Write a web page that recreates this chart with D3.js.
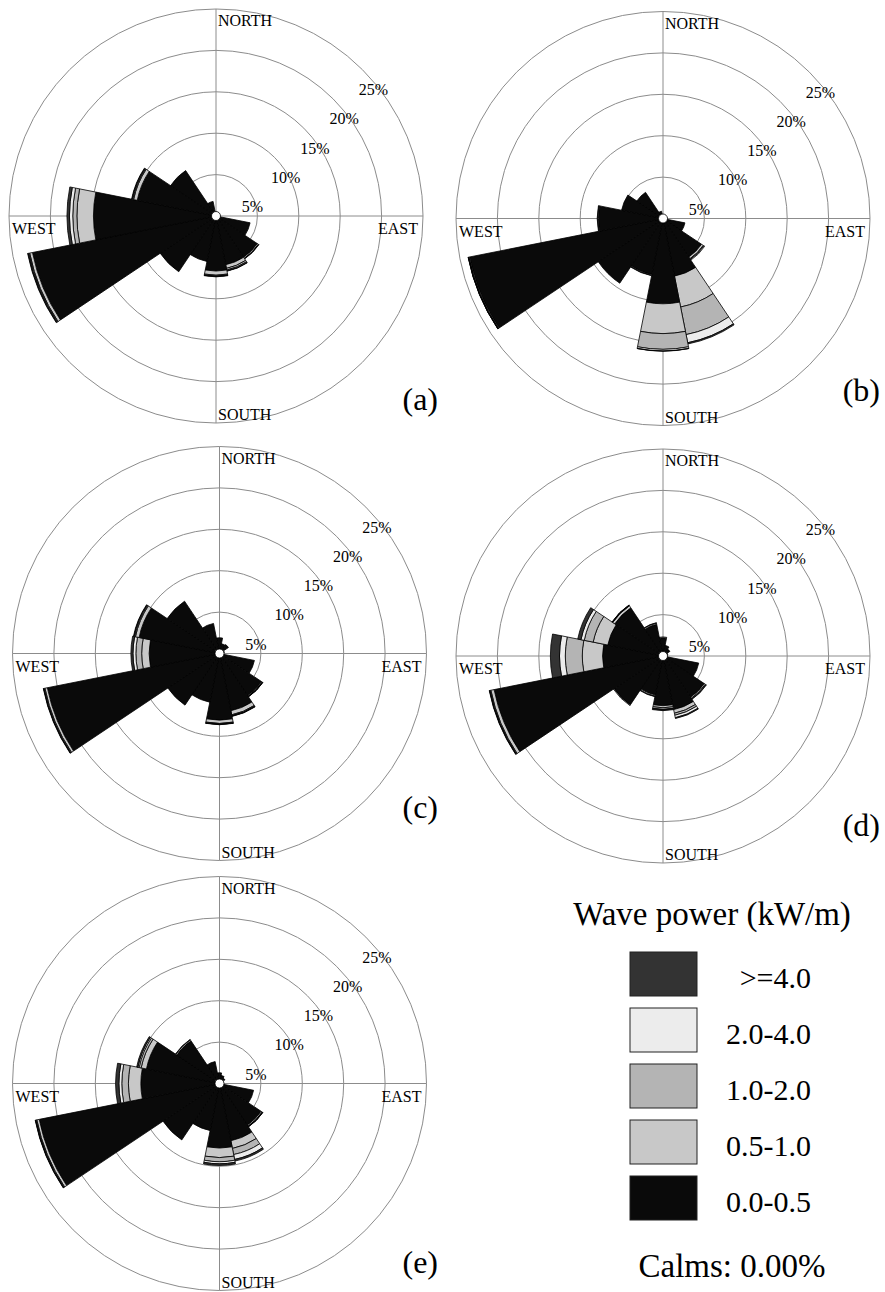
<!DOCTYPE html>
<html>
<head>
<meta charset="utf-8">
<script src="https://cdn.jsdelivr.net/npm/d3@7"></script>
<style>
  html, body { margin: 0; padding: 0; background: #ffffff; }
  svg { display: block; }
  svg text { font-family: "Liberation Serif", "Times New Roman", serif; fill: #000; }
</style>
</head>
<body>
<svg id="chart" width="885" height="1292"></svg>
<script>
// Compass sectors, clockwise from north
const directions = ["N","NNE","NE","ENE","E","ESE","SE","SSE","S","SSW","SW","WSW","W","WNW","NW","NNW"];
// Wave power classes (kW/m), stacked from the centre outwards
const powerBins = ["0.0-0.5","0.5-1.0","1.0-2.0","2.0-4.0",">=4.0"];
const binColors = ["#0a0a0a","#c8c8c8","#b4b4b4","#ececec","#333333"];
const ringTicks = [5, 10, 15, 20, 25];
const tickLabels = ["5%","10%","15%","20%","25%"];
const panelLabels = ["(a)","(b)","(c)","(d)","(e)"];

// Frequency of occurrence (%) per direction, one array per power class
// (a)
const a_p0 = [0.4,0.3,0.2,0.2,0.4,4.2,6.0,6.0,6.65,5.6,8.1,22.6,14.8,9.7,6.6,1.8];
const a_p1 = [0,0,0,0,0,0,0.15,0.45,0.5,0,0,0.35,2.0,0.45,0,0];
const a_p2 = [0,0,0,0,0,0,0.05,0.2,0.1,0,0,0.1,0.5,0.1,0,0];
const a_p3 = [0,0,0,0,0,0,0.03,0.1,0.05,0,0,0.08,0.4,0.08,0,0];
const a_p4 = [0,0,0,0,0,0,0,0.05,0.05,0,0,0.07,0.3,0.07,0,0];
// (b)
const b_p0 = [0.4,0.3,0.3,0.3,0.5,2.7,5.6,7.1,10.3,6.9,9.4,23.8,7.8,5.1,3.8,0.9];
const b_p1 = [0,0,0,0,0,0,0.25,3.8,3.6,0.1,0,0.1,0.1,0,0,0];
const b_p2 = [0,0,0,0,0,0,0.1,3.4,1.9,0.05,0,0.05,0.05,0,0,0];
const b_p3 = [0,0,0,0,0,0,0.1,1.0,0.2,0,0,0.03,0,0,0,0];
const b_p4 = [0,0,0,0,0,0,0,0.15,0.02,0,0,0.02,0,0,0,0];
// (c)
const c_p0 = [1.9,1.2,1.3,0.6,0.4,4.3,6.1,7.05,8.05,6.0,7.5,21.2,8.5,9.9,7.6,3.7];
const c_p1 = [0,0,0,0,0,0,0.1,0.5,0.4,0,0,0.3,0.9,0.45,0,0];
const c_p2 = [0,0,0,0,0,0,0.05,0.1,0.08,0,0,0.1,0.7,0.1,0,0];
const c_p3 = [0,0,0,0,0,0,0.03,0.05,0.04,0,0,0.05,0.35,0.08,0,0];
const c_p4 = [0,0,0,0,0,0,0.02,0.05,0.03,0,0,0.05,0.25,0.07,0,0];
// (d)
const d_p0 = [2.2,1.3,1.0,0.6,0.4,4.4,6.0,6.6,6.0,4.8,7.1,20.8,7.3,6.8,7.0,3.9];
const d_p1 = [0.1,0,0,0,0,0,0.15,0.45,0.25,0.15,0.1,0.4,2.45,1.8,0.3,0.15];
const d_p2 = [0,0,0,0,0,0,0.1,0.25,0.2,0.05,0,0.1,2.05,1.1,0.05,0.05];
const d_p3 = [0,0,0,0,0,0,0.05,0.3,0.05,0,0,0.05,0.7,0.4,0.03,0];
const d_p4 = [0,0,0,0,0,0,0,0.1,0.1,0,0,0.05,1.1,0.4,0.02,0];
// (e)
const e_p0 = [1.3,1.0,0.8,0.5,0.4,4.2,6.05,7.05,7.8,5.8,8.2,22.2,9.5,9.0,6.2,2.7];
const e_p1 = [0,0,0,0,0,0,0.15,0.95,1.15,0,0,0.3,1.5,0.65,0.15,0];
const e_p2 = [0,0,0,0,0,0,0.05,0.75,0.5,0,0,0.1,0.8,0.25,0.05,0];
const e_p3 = [0,0,0,0,0,0,0.03,0.6,0.25,0,0,0.05,0.35,0.15,0,0];
const e_p4 = [0,0,0,0,0,0,0.02,0.2,0.2,0,0,0.05,0.4,0.15,0,0];

const calms = "0.00%";

// rose centres and tag placement (tag anchored at its right edge)
const panels = [
  { label: panelLabels[0], cx: 216,   cy: 216,    lx: 438, ly: 410,  classes: [a_p0,a_p1,a_p2,a_p3,a_p4] },
  { label: panelLabels[1], cx: 663,   cy: 218.5,  lx: 880, ly: 401,  classes: [b_p0,b_p1,b_p2,b_p3,b_p4] },
  { label: panelLabels[2], cx: 219.5, cy: 653.5,  lx: 438, ly: 818,  classes: [c_p0,c_p1,c_p2,c_p3,c_p4] },
  { label: panelLabels[3], cx: 663,   cy: 656,    lx: 880, ly: 836,  classes: [d_p0,d_p1,d_p2,d_p3,d_p4] },
  { label: panelLabels[4], cx: 219.5, cy: 1083.5, lx: 438, ly: 1273, classes: [e_p0,e_p1,e_p2,e_p3,e_p4] }
];

const R = 207;
const r = d3.scaleLinear().domain([0, 25]).range([0, R]);
const angle = d3.scaleBand().domain(directions).range([-Math.PI / 16, 2 * Math.PI - Math.PI / 16]);
const gridColor = "#8c8c8c";

const svg = d3.select("#chart");

panels.forEach(p => {
  const g = svg.append("g").attr("transform", `translate(${p.cx},${p.cy})`);

  // rings and axes
  g.selectAll("circle.ring").data(ringTicks).join("circle")
    .attr("class", "ring")
    .attr("r", d => r(d))
    .attr("fill", "none").attr("stroke", gridColor).attr("stroke-width", 1);
  g.append("line").attr("x1", -R).attr("x2", R).attr("y1", 0).attr("y2", 0)
    .attr("stroke", gridColor).attr("stroke-width", 1);
  g.append("line").attr("x1", 0).attr("x2", 0).attr("y1", -R).attr("y2", R)
    .attr("stroke", gridColor).attr("stroke-width", 1);

  // stacked sectors
  const segs = [];
  directions.forEach((dir, i) => {
    let base = 0;
    p.classes.forEach((arr, k) => {
      const v = arr[i];
      if (v > 0) segs.push({ dir, k, lo: base, hi: base + v });
      base += v;
    });
  });
  const arc = d3.arc()
    .innerRadius(d => r(d.lo))
    .outerRadius(d => r(d.hi))
    .startAngle(d => angle(d.dir))
    .endAngle(d => angle(d.dir) + angle.bandwidth());
  g.selectAll("path.seg").data(segs).join("path")
    .attr("class", "seg")
    .attr("d", arc)
    .attr("fill", d => binColors[d.k])
    .attr("stroke", "#000").attr("stroke-width", 0.8)
    .attr("stroke-linejoin", "miter");

  // centre marker
  g.append("circle").attr("r", 4.5).attr("fill", "#fff")
    .attr("stroke", "#000").attr("stroke-width", 0.8);

  // ring labels along the NE diagonal
  g.selectAll("text.tick").data(ringTicks).join("text")
    .attr("class", "tick")
    .attr("x", d => r(d) * Math.SQRT1_2 - 3.5)
    .attr("y", d => -r(d) * Math.SQRT1_2 + 25.5)
    .attr("font-size", 16)
    .text((d, i) => tickLabels[i]);

  // compass labels
  const lab = [
    { t: "NORTH", x: 2, y: -190, a: "start" },
    { t: "SOUTH", x: 2, y: 204, a: "start" },
    { t: "WEST", x: -204, y: 18, a: "start" },
    { t: "EAST", x: 202, y: 18, a: "end" }
  ];
  g.selectAll("text.card").data(lab).join("text")
    .attr("class", "card")
    .attr("x", d => d.x).attr("y", d => d.y)
    .attr("text-anchor", d => d.a)
    .attr("font-size", 16)
    .text(d => d.t);

  // panel tag
  svg.append("text")
    .attr("x", p.lx).attr("y", p.ly)
    .attr("text-anchor", "end")
    .attr("font-size", 32)
    .text(p.label);
});

// legend
const legend = svg.append("g");
legend.append("text")
  .attr("x", 712).attr("y", 925).attr("text-anchor", "middle")
  .attr("font-size", 33)
  .text("Wave power (kW/m)");

const legendOrder = d3.range(powerBins.length).reverse();
const ly = d3.scalePoint().domain(legendOrder).range([952, 1176]);
legend.selectAll("rect").data(legendOrder).join("rect")
  .attr("x", 630).attr("y", d => ly(d))
  .attr("width", 67).attr("height", 44)
  .attr("fill", d => binColors[d])
  .attr("stroke", "#222").attr("stroke-width", 1);
legend.selectAll("text.bin").data(legendOrder).join("text")
  .attr("class", "bin")
  .attr("x", 811).attr("y", d => ly(d) + 36)
  .attr("text-anchor", "end")
  .attr("font-size", 30)
  .text(d => powerBins[d]);

legend.append("text")
  .attr("x", 732).attr("y", 1277).attr("text-anchor", "middle")
  .attr("font-size", 33)
  .text("Calms: " + calms);
</script>
</body>
</html>
